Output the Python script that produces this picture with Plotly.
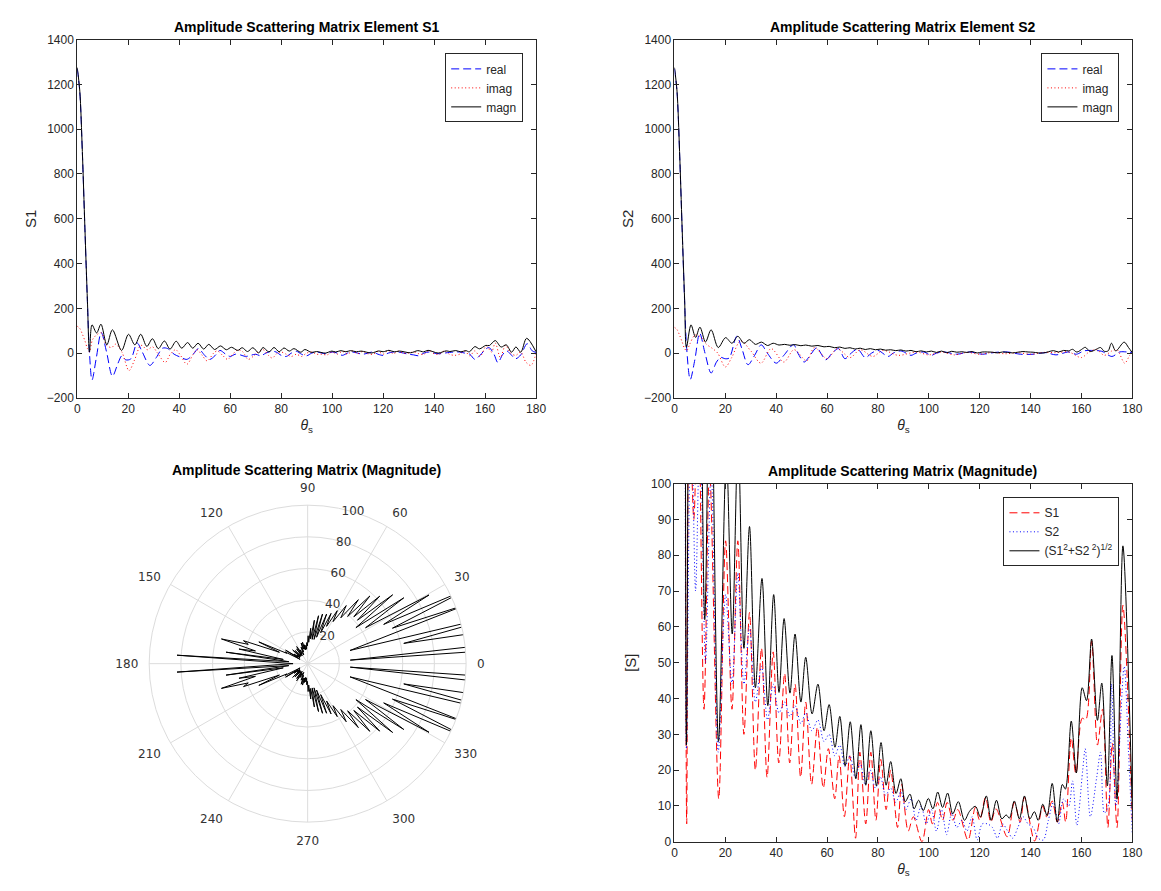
import plotly.graph_objects as go

# ---------------- data (theta in degrees, value) ----------------
S1_REAL = [(0,1270),(1,1165),(2,895),(3,555),(4,225),(4.8,0),(5.8,-120),(7.5,-20),(9.4,92),(11.5,5),(13.8,-103),
           (16,-45),(17.5,-12),(19,-30),(21,-26),(23.5,45),(25.5,5),(28.5,-55),(31,-20),(33.5,22),(35.5,20),(38,-5),
           (40.5,-18),(43,-28),(45.5,-5),(47.5,20),(50,-10),(52,-28),(54,-12),(56,12),(58,-3),(60,-15),(62,-5),(64,-8),
           (66,-15),(68,-10),(70,-5),(72,-12),(74,0),(76,8),(78,5),(80,-10),(82,-15),(84,0),(86,8),(88,-5),(90,-12),
           (92,0),(94,5),(96,0),(98,-3),(100,5),(102,0),(104,-10),(106,0),(108,5),(110,0),(112,-5),(114,0),(116,5),
           (118,-5),(120,-10),(122,0),(124,5),(126,5),(128,0),(130,-5),(132,-8),(134,-12),(136,0),(138,5),(140,0),
           (142,-3),(144,0),(146,3),(148,5),(150,5),(152,0),(154,-5),(156,-28),(158,-10),(160,15),(161.5,25),
           (163.5,-5),(165,-42),(167,-5),(168.5,10),(170,-5),(172,-25),(174,-8),(176.5,42),(178.5,10),(180,3)]

S1_IMAG = [(0,120),(1,110),(2,85),(3,55),(4,20),(4.8,5),(6,60),(8,85),(9.5,90),(11.5,35),(13.5,25),(15,40),(17.5,5),
           (20.3,-78),(22.5,-30),(25,35),(27.5,15),(29.5,28),(31.5,0),(34.5,-42),(36.5,-5),(38.6,15),(40.5,-10),
           (43,-50),(45.5,-5),(47,15),(49,-10),(51,-35),(53.5,0),(55,10),(57,-10),(59,-28),(61,-5),(63,15),(65,5),
           (67,-28),(69,-15),(71,5),(73,15),(75,-10),(76.5,-22),(78.5,0),(80,5),(82,-5),(84,-15),(86,-5),(88,-15),
           (90,0),(92,5),(94,-5),(96,-5),(98,-8),(100,5),(102,-5),(104,8),(106,-5),(108,10),(110,-3),(112,8),
           (114,-3),(116,-5),(118,8),(120,-5),(122,12),(124,-3),(126,9),(128,0),(130,0),(132,5),(134,-3),(136,-5),
           (138,12),(140,-3),(142,-5),(144,10),(146,-5),(148,-10),(150,-5),(152,10),(154,-12),(156,10),(158,-15),
           (160.5,32),(162.5,5),(164,45),(166,-20),(168,35),(170,0),(172,-10),(174,5),(176,-40),(178,-55),(180,0)]

S1_MAGN = [(0,1275),(1,1170),(2,900),(3,560),(4,230),(4.8,5),(5.8,126),(7.6,90),(9.3,129),(11.6,37),(13.8,104),
           (17.4,12),(20.1,84),(22.6,37),(24.9,84),(27.3,30),(29.5,64),(31.8,20),(34.2,54),(36.4,18),(38.8,53),
           (41.0,22),(43.3,47),(45.3,22),(47.4,44),(49.6,18),(51.6,39),(53.9,16),(56.2,32),(58.5,15),(60.5,26),
           (63.0,12),(64.7,24),(66.8,7),(68.9,24),(71.2,1),(72.9,25),(75.2,5),(77.2,25),(79.2,6),(81.1,23),(83.2,9),
           (85.0,20),(87.7,4),(89.3,16),(91.9,3),(93.9,7),(97.3,0),(99.9,9),(101.4,5),(103.4,11),(105.4,6),(107.2,11),
           (109.5,6),(111.4,9),(115.4,0.5),(118.3,9.6),(120.0,6),(122.3,12.4),(124.4,5.5),(126.4,9.2),(130.8,1.4),
           (133.6,11),(135.9,5.5),(137.6,12.4),(141.6,0.2),(144.8,10),(146.2,7),(148.5,11.4),(150.5,5.5),(152.5,11),
           (153.8,5.5),(156.0,29),(157.8,19),(160.3,34.5),(161.7,34),(164.0,56),(166.3,27),(168.3,37),(170.4,4),
           (172.1,27.5),(174.0,4),(176.3,66),(180,6)]

S2_REAL = [(0,1270),(1,1165),(2,895),(3,555),(4,225),(4.8,20),(6.2,-118),(8,-30),(9.9,89),(12,0),(14.4,-89),
           (16.5,-40),(18.2,-19),(19.8,-25),(21.5,-22),(24.5,75),(26.5,20),(28.9,-52),(31.5,-10),(34.1,37),(36.5,0),
           (40,-45),(43,-10),(46.8,38),(48.5,0),(51,-40),(53,-15),(56,25),(57.5,0),(59.5,-30),(62,0),(64.5,20),
           (67,-25),(69.5,0),(72,18),(75,-20),(77.5,0),(80,12),(84,-15),(86,0),(89,10),(93,-10),(95,0),(98,5),
           (101,-10),(103,0),(106,5),(111,-5),(116,5),(121,-5),(126,3),(131,5),(136,-5),(141,-5),(146,2),(150,-8),
           (155,5),(158,-5),(161,10),(164,12),(168,8),(172,-15),(175,5),(178,5),(180,3)]

S2_IMAG = [(0,115),(1,105),(2,80),(3,50),(4,20),(4.8,10),(6,40),(8,80),(10,75),(12.5,40),(15,20),(17,0),(20,-62),
           (22.5,-20),(26,55),(30,10),(34,-45),(38,20),(43,-40),(47,15),(52,-35),(55,25),(60,-25),(64,20),(69,-20),
           (73,15),(78,-15),(82,12),(88,-10),(95,5),(100,-8),(105,5),(110,-8),(115,3),(120,-5),(125,3),(130,-3),
           (135,2),(140,-5),(145,3),(150,2),(155,5),(160,-20),(163,5),(166,15),(169,-10),(172,10),(174,15),
           (177,-45),(179,-10),(180,0)]

S2_MAGN = [(0,1275),(1,1170),(2,900),(3,560),(4,235),(4.7,26),(6.5,126),(8.3,70),(10.0,116),(12.2,50),(14.4,104),
           (17.2,25),(20.1,69),(22.6,44),(24.9,75),(27.3,44),(29.5,60),(31.8,39),(34.2,49),(36.6,34),(38.8,44),
           (41.1,36),(43.3,39),(45.4,35),(47.4,38),(49.7,33),(51.6,36),(54.0,31),(56.4,34),(58.8,28),(60.8,30),
           (63.0,24),(65.0,27),(67.0,21),(69.0,24),(71.0,18),(73.0,22),(75.0,16),(77.0,20),(79.0,15),(81.0,18),
           (83.0,13),(85.0,15),(87.0,11),(89.0,14),(91.0,9),(93.0,12),(95.0,6),(97.0,10),(99.0,5),(101.0,9),
           (103.0,3),(105.0,9),(107.0,2),(109.0,8),(111.0,4),(113.0,6),(115.0,3),(117.0,7),(119.0,0.5),(121.0,5),
           (123.0,5),(125.0,4),(127.0,1),(129.0,5),(131.0,3),(133.0,1),(135.0,4),(137.0,7),(139.0,5),(141.0,4),
           (143.0,1),(145.0,0.5),(147.0,6),(149.0,11),(151.0,5),(153.0,12),(155.0,10),(156.5,17),(158.2,4.6),
           (160.5,20),(161.5,26),(163.5,7),(166.0,18),(167.5,25),(169.0,8),(170.5,10),(171.8,44),(173.5,10),
           (176.8,49),(178.5,25),(180,2)]

S_TOTAL = [(0,1800),(1,1655),(2,1273),(3,792),(4,327),(4.7,27),(6.1,177),(7.9,115),(9.6,172),(11.9,62),(14.1,147),
           (17.3,28),(20.4,108),(22.7,58),(25.0,113),(27.3,54),(29.5,88),(31.8,43),(34.4,73.5),(36.7,38),(39.0,69),
           (41.1,41.7),(43.1,62.3),(45.4,41.5),(47.4,58),(49.7,39),(51.6,51.5),(54.1,35.7),(56.4,44),(58.8,31),
           (60.8,38.3),(63.1,26.4),(65.0,35),(67.1,21.2),(69.1,33.5),(71.3,17.6),(73.3,32.7),(75.2,15.8),(77.2,31),
           (79.4,15.6),(81.2,27.7),(83.2,15.8),(85.0,22.4),(87.1,13.5),(89.0,17.6),(90.7,11.2),(92.6,13.3),(94.2,9.2),
           (96.0,11.6),(97.8,8.7),(99.8,12.1),(101.6,9.2),(103.5,13.9),(105.4,9.6),(107.4,13.6),(109.4,7.8),
           (111.6,11.2),(114.0,6.0),(116.0,8.5),(118.3,9.9),(120.3,6.9),(122.6,12.8),(124.5,6.0),(126.6,11.6),
           (128.7,6.4),(130.4,7.5),(131.7,6.6),(133.6,11.4),(135.6,6.4),(137.6,12.8),(139.7,6.4),(141.5,8.4),
           (143.0,6.0),(144.8,10.5),(146.5,7.3),(148.5,16.3),(150.5,5.5),(152.5,16.0),(153.7,14.7),(156.0,33.7),
           (158.0,19.2),(160.3,43.0),(162.0,39.4),(164.0,56.6),(166.3,33.9),(168.0,44.3),(170.2,15.6),(172.0,52.0),
           (174.0,11.9),(176.3,82.6),(180,9.2)]

TOP_YTICKS = [-200, 0, 200, 400, 600, 800, 1000, 1200, 1400]
X_TICKS = [0, 20, 40, 60, 80, 100, 120, 140, 160, 180]
BR_YTICKS = [0, 10, 20, 30, 40, 50, 60, 70, 80, 90, 100]
POLAR_RTICKS = [20, 40, 60, 80, 100]
POLAR_ATICKS = [0, 30, 60, 90, 120, 150, 180, 210, 240, 270, 300, 330]


def unzip(pairs):
    return [p[0] for p in pairs], [p[1] for p in pairs]


W, H = 1161, 891
FONT = "Liberation Sans, Arial, sans-serif"
AX = "#262626"
DASH = "8px,4px"
DOT = "1px,2.5px"

fig = go.Figure()


def add_line(pairs, name, color, dash, xa, ya, legend, shape="spline"):
    x, y = unzip(pairs)
    fig.add_trace(go.Scatter(x=x, y=y, mode="lines", name=name, xaxis=xa, yaxis=ya, legend=legend,
                             line=dict(color=color, width=1, dash=dash, shape=shape, smoothing=0.9)))


# top-left: S1
add_line(S1_REAL, "real", "#0000ff", DASH, "x", "y", "legend")
add_line(S1_IMAG, "imag", "#ff0000", DOT, "x", "y", "legend")
add_line(S1_MAGN, "magn", "#000000", "solid", "x", "y", "legend")
# top-right: S2
add_line(S2_REAL, "real", "#0000ff", DASH, "x2", "y2", "legend2")
add_line(S2_IMAG, "imag", "#ff0000", DOT, "x2", "y2", "legend2")
add_line(S2_MAGN, "magn", "#000000", "solid", "x2", "y2", "legend2")
# bottom-right: magnitudes
add_line(S1_MAGN, "S1", "#ff0000", DASH, "x3", "y3", "legend3")
add_line(S2_MAGN, "S2", "#0000ff", DOT, "x3", "y3", "legend3")
add_line(S_TOTAL, "(S1<sup>2</sup>+S2<sup> 2</sup>)<sup>1/2</sup>", "#000000", "solid", "x3", "y3", "legend3")

# bottom-left: polar plot of total magnitude, mirrored over 180..360
th, rr = unzip(S_TOTAL)
pth = th + [360 - t for t in reversed(th)]
pr = rr + list(reversed(rr))
fig.add_trace(go.Scatterpolar(r=pr, theta=pth, mode="lines", showlegend=False,
                              line=dict(color="#000000", width=1)))

axis_common = dict(showline=True, linecolor=AX, linewidth=1, mirror="allticks", ticks="inside", ticklen=5,
                   tickcolor=AX, showgrid=False, zeroline=False,
                   tickfont=dict(family=FONT, size=12, color=AX))
xt = dict(text="<i>θ</i><sub>s</sub>", font=dict(family=FONT, size=14, color=AX), standoff=4)

fig.update_layout(
    width=W, height=H, margin=dict(l=0, r=0, t=0, b=0),
    paper_bgcolor="white", plot_bgcolor="white",
    font=dict(family=FONT, color=AX),
    xaxis=dict(domain=[67 / W, 531 / W], anchor="y", range=[0, 180], tickvals=X_TICKS, title=xt, **axis_common),
    yaxis=dict(domain=[1 - 389 / H, 1 - 25 / H], anchor="x", range=[-200, 1400], tickvals=TOP_YTICKS,
               title=dict(text="S1", font=dict(family=FONT, size=15, color=AX), standoff=6), **axis_common),
    xaxis2=dict(domain=[671 / W, 1134 / W], anchor="y2", range=[0, 180], tickvals=X_TICKS, title=xt, **axis_common),
    yaxis2=dict(domain=[1 - 389 / H, 1 - 25 / H], anchor="x2", range=[-200, 1400], tickvals=TOP_YTICKS,
                title=dict(text="S2", font=dict(family=FONT, size=15, color=AX), standoff=6), **axis_common),
    xaxis3=dict(domain=[671 / W, 1134 / W], anchor="y3", range=[0, 180], tickvals=X_TICKS, title=xt, **axis_common),
    yaxis3=dict(domain=[1 - 840 / H, 1 - 476 / H], anchor="x3", range=[0, 100], tickvals=BR_YTICKS,
                title=dict(text="[S]", font=dict(family=FONT, size=15, color=AX), standoff=10), **axis_common),
    polar=dict(
        domain=dict(x=[139 / W, 461 / W], y=[1 - 820 / H, 1 - 498 / H]),
        bgcolor="white",
        radialaxis=dict(range=[0, 100], tickvals=POLAR_RTICKS, angle=80, tickangle=80, showline=False, ticks="",
                        gridcolor="#dcdcdc", tickfont=dict(family="DejaVu Sans", size=12, color="#333333")),
        angularaxis=dict(tickmode="array", tickvals=POLAR_ATICKS, direction="counterclockwise", rotation=0,
                         gridcolor="#dcdcdc", linecolor="#dcdcdc", ticks="outside", ticklen=8,
                         tickcolor="rgba(0,0,0,0)",
                         tickfont=dict(family="DejaVu Sans", size=12, color="#333333")),
    ),
    legend=dict(x=518 / W, y=1 - 39 / H, xanchor="right", yanchor="top", bordercolor=AX, borderwidth=1,
                bgcolor="white", font=dict(family=FONT, size=12, color=AX), tracegroupgap=0),
    legend2=dict(x=1121 / W, y=1 - 39 / H, xanchor="right", yanchor="top", bordercolor=AX, borderwidth=1,
                 bgcolor="white", font=dict(family=FONT, size=12, color=AX), tracegroupgap=0),
    legend3=dict(x=1121 / W, y=1 - 490 / H, xanchor="right", yanchor="top", bordercolor=AX, borderwidth=1,
                 bgcolor="white", font=dict(family=FONT, size=12, color=AX), tracegroupgap=0),
)

titles = [
    ("Amplitude Scattering Matrix Element S1", 299, 12),
    ("Amplitude Scattering Matrix Element S2", 902, 12),
    ("Amplitude Scattering Matrix (Magnitude)", 299, 462),
    ("Amplitude Scattering Matrix (Magnitude)", 902, 463),
]
for text, cx, cy in titles:
    fig.add_annotation(text="<b>" + text + "</b>", x=cx / W, y=1 - cy / H, xref="paper", yref="paper",
                       xanchor="center", yanchor="middle", showarrow=False,
                       font=dict(family=FONT, size=14, color="#000000"))

fig.write_html("out.html")
